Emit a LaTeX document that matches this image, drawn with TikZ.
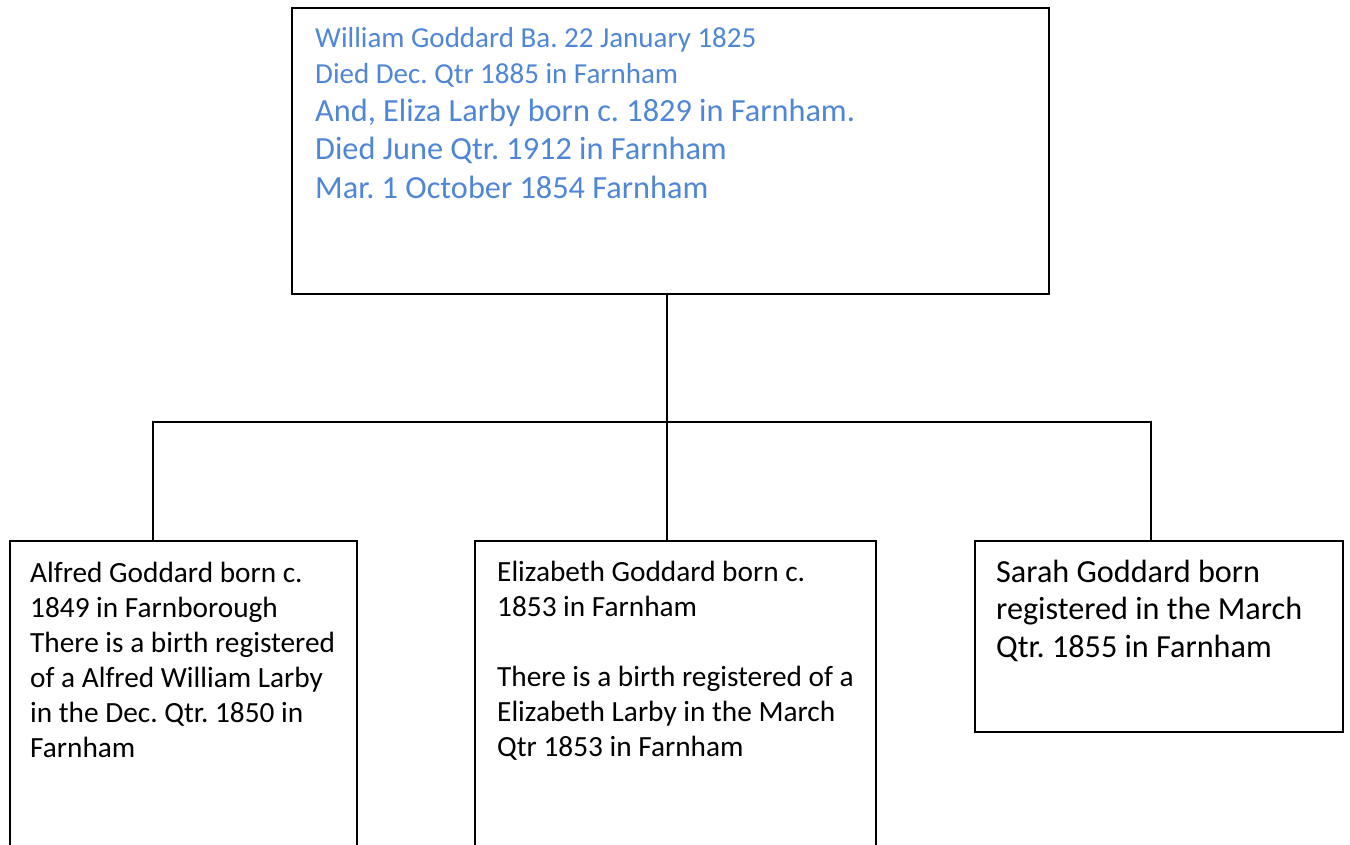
\documentclass[tikz,border=0pt]{standalone}
\usepackage{fontspec}
\setmainfont{Carlito}
\definecolor{tblue}{RGB}{79,134,214}
\newcommand{\lines}[2]{\parbox[t]{#1}{\raggedright\frenchspacing #2}}
\begin{document}
\begin{tikzpicture}[x=1pt,y=-1pt,
  box/.style={draw=black, line width=1.8pt, inner sep=0pt},
  conn/.style={draw=black, line width=1.6pt, line join=miter},
  txt/.style={anchor=base west, inner sep=0pt}]
\useasboundingbox (0,0) rectangle (1350,844);
\fill[white] (0,0) rectangle (1350,844);
% boxes
\node[box, minimum width=757pt, minimum height=286pt] (parent) at (670.5,151) {};
\node[box, minimum width=347pt, minimum height=330pt] (alfred) at (183.5,706) {};
\node[box, minimum width=401pt, minimum height=330pt] (eliz) at (675.5,706) {};
\node[box, minimum width=368pt, minimum height=191pt] (sarah) at (1159,636.5) {};
% texts
\node[txt, text=tblue, font=\fontsize{29}{36.5}\selectfont] (pt1) at (315,47)
  {\lines{700pt}{William Goddard Ba. 22 January 1825\\Died Dec. Qtr 1885 in Farnham}};
\node[txt, text=tblue, font=\fontsize{32.3}{38.5}\selectfont] (pt2) at (315,121)
  {\lines{700pt}{And, Eliza Larby born c. 1829 in Farnham.\\Died June Qtr. 1912 in Farnham\\Mar. 1 October 1854 Farnham}};
\node[txt, font=\fontsize{29.3}{35}\selectfont] (at) at (30,582)
  {\lines{320pt}{Alfred Goddard born c.\\1849 in Farnborough\\There is a birth registered\\of a Alfred William Larby\\in the Dec. Qtr. 1850 in\\Farnham}};
\node[txt, font=\fontsize{29.3}{35}\selectfont] (et) at (497,581)
  {\lines{380pt}{Elizabeth Goddard born c.\\1853 in Farnham\\[35pt]There is a birth registered of a\\Elizabeth Larby in the March\\Qtr 1853 in Farnham}};
\node[txt, font=\fontsize{32.2}{37.8}\selectfont] (st) at (996,582)
  {\lines{340pt}{Sarah Goddard born\\registered in the March\\Qtr. 1855 in Farnham}};
% connectors
\coordinate (j) at (667,422);
\coordinate (ha) at (153,422);
\coordinate (hs) at (1151,422);
\draw[conn] (parent.south -| j) -- (j |- eliz.north);
\draw[conn] (alfred.north -| ha) -- (ha) -- (hs) -- (hs |- sarah.north);
\end{tikzpicture}
\end{document}
